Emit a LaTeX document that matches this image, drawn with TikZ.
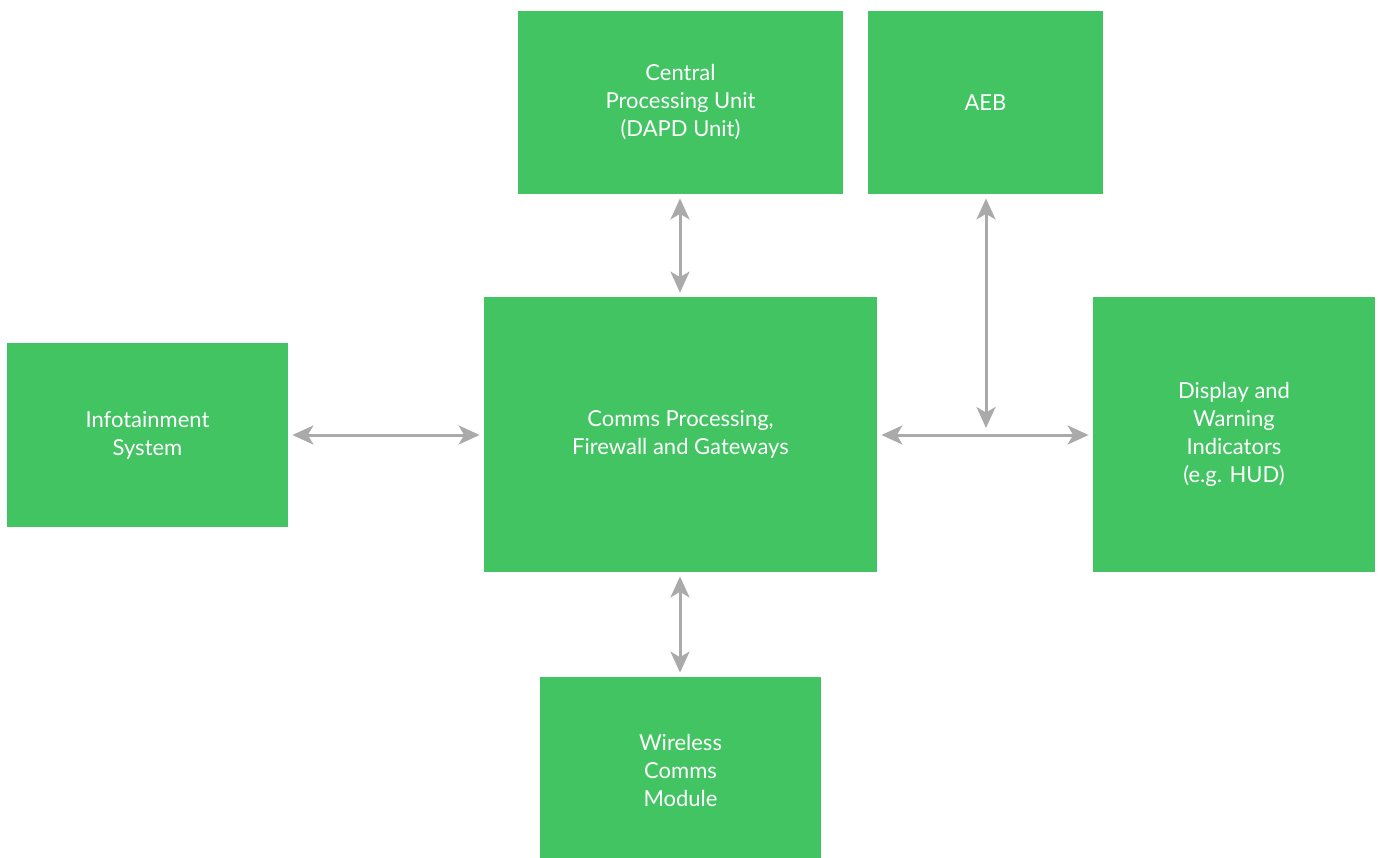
\documentclass[tikz,border=0pt]{standalone}
\usepackage{fontspec}
\setmainfont{Lato}
\usetikzlibrary{arrows.meta}
\definecolor{boxgreen}{RGB}{66,196,99}
\definecolor{arrgray}{RGB}{170,170,170}
\begin{document}
\begin{tikzpicture}[x=0.5pt,y=-0.5pt,
  box/.style={fill=boxgreen,draw=none,text=white,align=center,inner sep=0pt,
    font=\fontsize{11pt}{14pt}\selectfont},
  link/.style={draw=arrgray,line width=1.5pt,
    {Stealth[length=10.5pt,width=9.5pt,inset=2.8pt]}-{Stealth[length=10.5pt,width=9.5pt,inset=2.8pt]},
    shorten <=2pt,shorten >=2pt}]
\useasboundingbox (0,0) rectangle (1380,857);
\node[box,minimum width=162.5pt,minimum height=91.5pt] (cpu) at (680.5,102.5) {Central\\Processing Unit\\(DAPD Unit)};
\node[box,minimum width=117.5pt,minimum height=91.5pt] (aeb) at (985.5,102.5) {AEB};
\node[box,minimum width=140.5pt,minimum height=92pt] (info) at (147.5,435) {Infotainment\\System};
\node[box,minimum width=196.5pt,minimum height=137.5pt] (comms) at (680.5,434.5) {Comms Processing,\\Firewall and Gateways};
\node[box,minimum width=141pt,minimum height=137.5pt] (disp) at (1234,434.5) {Display and\\Warning\\Indicators\\(e.g. HUD)};
\fill[boxgreen] (540,677) rectangle (821,857);
\node[box,minimum width=140.5pt,minimum height=93pt] (wire) at (680.5,770) {Wireless\\Comms\\Module};
\coordinate (j) at (986,435);
\draw[link] (info.east |- 0,435) -- (comms.west |- 0,435);
\draw[link] (comms.east |- 0,435) -- (disp.west |- 0,435);
\draw[link] (cpu.south -| 680,0) -- (comms.north -| 680,0);
\draw[link] (comms.south -| 680,0) -- (wire.north -| 680,0);
\draw[link,shorten >=3.5pt] (aeb.south -| j) -- (j);
\end{tikzpicture}
\end{document}
